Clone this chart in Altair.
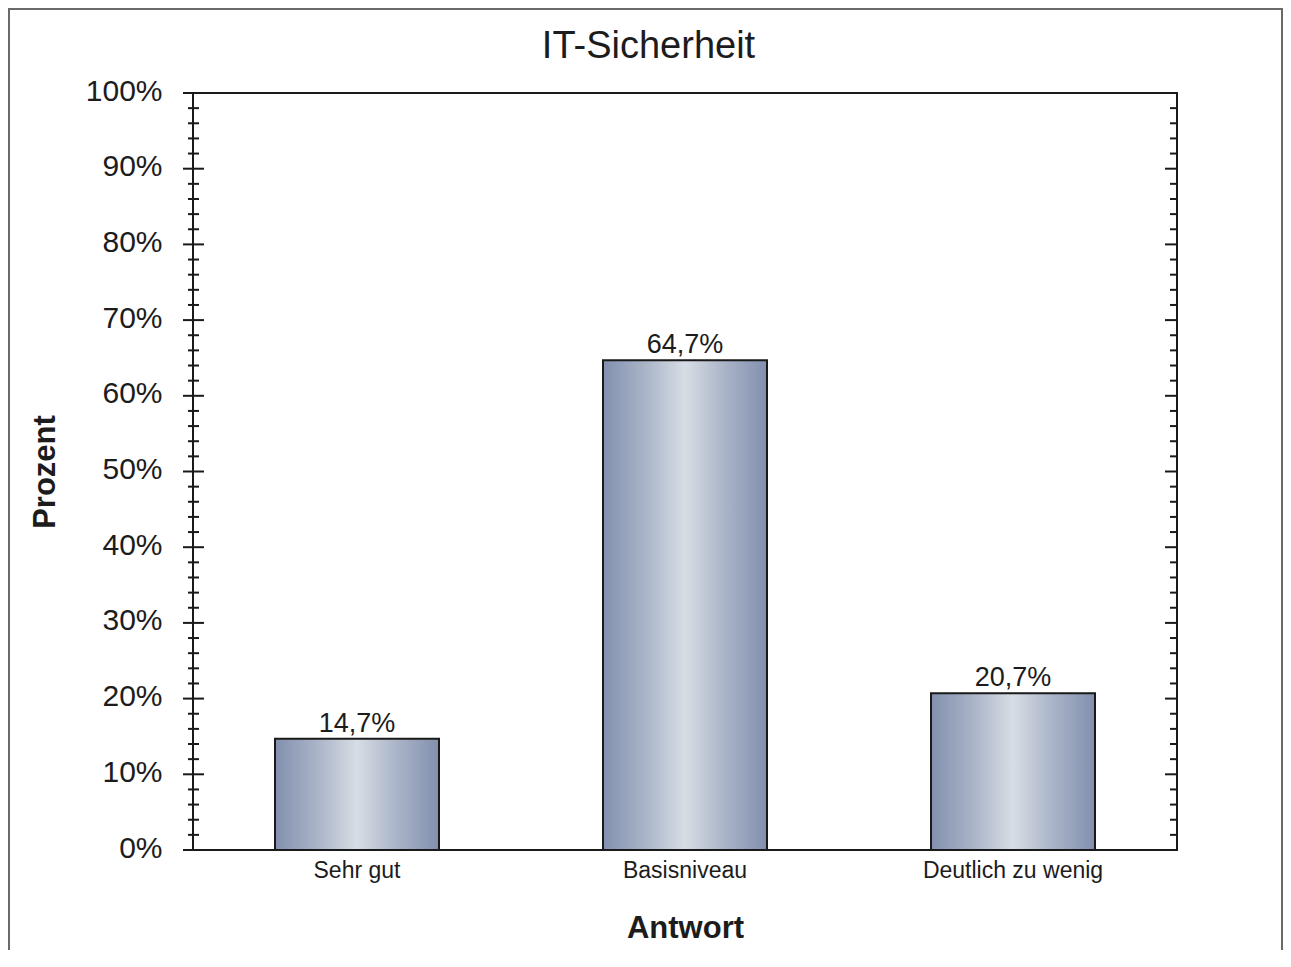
import altair as alt
import pandas as pd

categories = ["Sehr gut", "Basisniveau", "Deutlich zu wenig"]
values = [14.7, 64.7, 20.7]
value_labels = ["14,7%", "64,7%", "20,7%"]
major_ticks = list(range(0, 101, 10))
minor_ticks = [v for v in range(0, 101, 2) if v % 10 != 0]
chart_title = "IT-Sicherheit"

FONT = "Liberation Sans"
TXT = "#1c1c1c"

bars_df = pd.DataFrame({"cat": categories, "pct": values, "lab": value_labels})
major_df = pd.DataFrame({"pct": major_ticks})
minor_df = pd.DataFrame({"pct": minor_ticks})

yscale = alt.Scale(domain=[0, 100], nice=False, zero=True)
xscale = alt.Scale(paddingInner=0.5, paddingOuter=0.25)

grad = alt.Gradient(
    gradient="linear", x1=0, x2=1, y1=0, y2=0,
    stops=[
        alt.GradientStop(color="#8290ae", offset=0),
        alt.GradientStop(color="#a9b3c7", offset=0.25),
        alt.GradientStop(color="#d7dde5", offset=0.5),
        alt.GradientStop(color="#a9b3c7", offset=0.75),
        alt.GradientStop(color="#8290ae", offset=1),
    ],
)

bars = alt.Chart(bars_df).mark_bar(color=grad, stroke="#1a1a1a", strokeWidth=2).encode(
    x=alt.X("cat:N", sort=categories, scale=xscale, title="Antwort",
            axis=alt.Axis(labelAngle=0, labelFontSize=23, labelFont=FONT, labelColor=TXT,
                          labelPadding=9, labelLimit=500, ticks=False, domain=False,
                          titleFont=FONT, titleFontSize=31, titleFontWeight="bold", titleColor=TXT,
                          titleBaseline="alphabetic", titleY=87)),
    y=alt.Y("pct:Q", scale=yscale, title="Prozent",
            axis=alt.Axis(values=major_ticks, labelExpr="datum.value + '%'", labelFontSize=30,
                          labelFont=FONT, labelColor=TXT, labelPadding=31, ticks=False,
                          domain=False, grid=False, labelOffset=-2,
                          titleFont=FONT, titleFontSize=31, titleFontWeight="bold", titleColor=TXT,
                          titleBaseline="alphabetic", titleX=-139, titleY=378.5, titleAngle=270)),
)

text = alt.Chart(bars_df).mark_text(font=FONT, fontSize=27, color=TXT, baseline="alphabetic", dy=-7).encode(
    x=alt.X("cat:N", sort=categories, scale=xscale, title="Antwort"),
    y=alt.Y("pct:Q", scale=yscale, title="Prozent"),
    text="lab:N",
)

def tick_layer(df, x1, x2, width=2):
    return alt.Chart(df).mark_rule(color="#1a1a1a", strokeWidth=width).encode(
        y=alt.Y("pct:Q", scale=yscale, title="Prozent"),
        x=alt.value(x1), x2=alt.value(x2),
    )

left_major = tick_layer(major_df, -10, 11)
left_minor = tick_layer(minor_df, -5, 6)
right_major = tick_layer(major_df, 972, 984)
right_minor = tick_layer(minor_df, 977, 984)

one_row = alt.Data(values=[{"t": chart_title}])

frame = alt.Chart(one_row).mark_rect(
    fillOpacity=0, stroke="#6a6a6a", strokeWidth=2
).encode(
    x=alt.value(-184), x2=alt.value(1089), y=alt.value(-84), y2=alt.value(900)
)

title = alt.Chart(one_row).mark_text(
    font=FONT, fontSize=38, color=TXT, baseline="alphabetic", align="center"
).encode(
    x=alt.value(455.5), y=alt.value(-35), text="t:N"
)

chart = alt.layer(frame, bars, text, left_minor, left_major, right_minor, right_major, title).properties(
    width=984, height=757,
    autosize=alt.AutoSizeParams(type="none"),
    padding={"left": 185, "top": 85, "right": 106, "bottom": 100},
    background="white",
).configure_view(stroke="#1a1a1a", strokeWidth=2)

chart.save("out.html", embed_options={"renderer": "svg", "actions": False})
